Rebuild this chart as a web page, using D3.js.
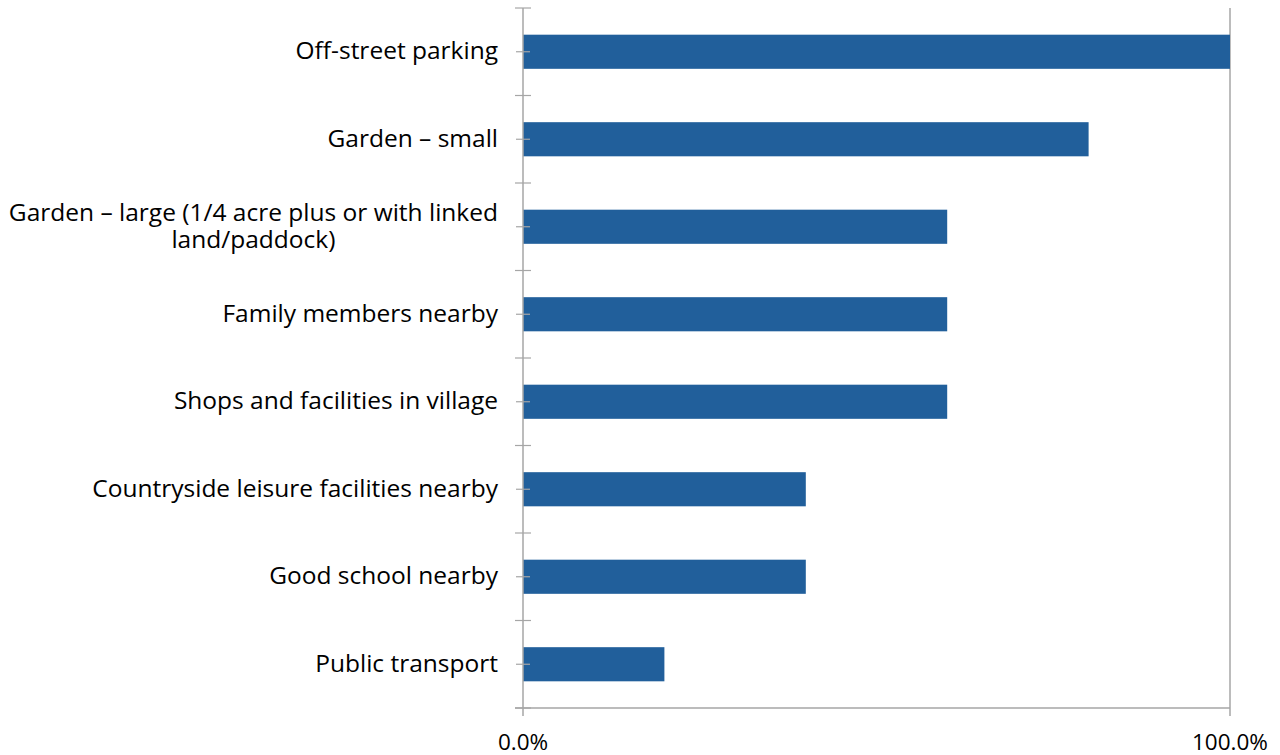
<!DOCTYPE html>
<html>
<head>
<meta charset="utf-8">
<script src="https://cdn.jsdelivr.net/npm/d3@7"></script>
<style>
  html, body { margin: 0; padding: 0; background: #fff; }
  svg { display: block; }
  text { font-family: "Open Sans", "Noto Sans", sans-serif; fill: #000; }
</style>
</head>
<body>
<svg id="chart" width="1280" height="755"></svg>
<script>
// Share of respondents rating each feature as important
const categories = [
  "Off-street parking",
  "Garden – small",
  "Garden – large (1/4 acre plus or with linked land/paddock)",
  "Family members nearby",
  "Shops and facilities in village",
  "Countryside leisure facilities nearby",
  "Good school nearby",
  "Public transport"
];
const values = [1.0, 0.8, 0.6, 0.6, 0.6, 0.4, 0.4, 0.2];
const xTickValues = [0, 1];

// label lines for categories that wrap
const labelLines = {
  "Garden – large (1/4 acre plus or with linked land/paddock)":
    ["Garden – large (1/4 acre plus or with linked", "land/paddock)"]
};

const svg = d3.select("#chart");
const margin = { top: 8, right: 50, bottom: 47, left: 523 };
const W = 1280, H = 755;
const innerW = W - margin.left - margin.right;
const innerH = H - margin.top - margin.bottom;

const g = svg.append("g").attr("transform", `translate(${margin.left},${margin.top})`);

const x = d3.scaleLinear().domain([0, 1]).range([0, innerW]);
const y = d3.scaleBand().domain(categories).range([0, innerH]).paddingInner(0.61).paddingOuter(0.305);
const band = d3.scaleBand().domain(categories).range([0, innerH]);

const axisColor = "#a6a6a6";

// gridline at 100%
g.append("line")
  .attr("x1", x(1)).attr("x2", x(1))
  .attr("y1", 0).attr("y2", innerH)
  .attr("stroke", axisColor).attr("stroke-width", 1.5);

// bars
g.selectAll("rect.bar")
  .data(categories)
  .join("rect")
  .attr("class", "bar")
  .attr("x", x(0))
  .attr("y", d => y(d))
  .attr("width", (d, i) => x(values[i]) - x(0))
  .attr("height", y.bandwidth())
  .attr("fill", "#215f9b");

// category axis line
g.append("line")
  .attr("x1", 0).attr("x2", 0)
  .attr("y1", 0).attr("y2", innerH)
  .attr("stroke", axisColor).attr("stroke-width", 1.5);

// ticks at band boundaries
const boundaries = categories.map(c => band(c)).concat([innerH]);
g.selectAll("line.major")
  .data(boundaries)
  .join("line")
  .attr("class", "major")
  .attr("x1", -8).attr("x2", 8)
  .attr("y1", d => d).attr("y2", d => d)
  .attr("stroke", axisColor).attr("stroke-width", 1.2);

// ticks at band centres
g.selectAll("line.minor")
  .data(categories)
  .join("line")
  .attr("class", "minor")
  .attr("x1", -7).attr("x2", 7)
  .attr("y1", d => band(d) + band.bandwidth() / 2)
  .attr("y2", d => band(d) + band.bandwidth() / 2)
  .attr("stroke", axisColor).attr("stroke-width", 1.2);

// value axis
g.append("line")
  .attr("x1", -8).attr("x2", x(1))
  .attr("y1", innerH).attr("y2", innerH)
  .attr("stroke", axisColor).attr("stroke-width", 1.5);

g.selectAll("line.xtick")
  .data(xTickValues)
  .join("line")
  .attr("class", "xtick")
  .attr("x1", d => x(d)).attr("x2", d => x(d))
  .attr("y1", innerH).attr("y2", innerH + 8)
  .attr("stroke", axisColor).attr("stroke-width", 1.5);

const fmt = d3.format(".1%");
g.selectAll("text.xlabel")
  .data(xTickValues)
  .join("text")
  .attr("class", "xlabel")
  .attr("x", d => x(d))
  .attr("y", innerH + 42)
  .attr("text-anchor", "middle")
  .attr("font-size", 22.5)
  .text(d => fmt(d));

// category labels
const labelRight = -25;
categories.forEach(c => {
  const lines = labelLines[c] || [c];
  const cy = band(c) + band.bandwidth() / 2;
  const lh = 27;
  const t = g.append("text")
    .attr("font-size", 24.5)
    .attr("text-anchor", "end");
  lines.forEach((ln, i) => {
    t.append("tspan")
      .attr("x", labelRight)
      .attr("y", cy + (i - (lines.length - 1) / 2) * lh)
      .attr("dy", "0.3em")
      .text(ln);
  });
  if (lines.length > 1) {
    // centre the lines on one another, block flush right
    const widths = t.selectAll("tspan").nodes().map(n => n.getComputedTextLength());
    const maxW = d3.max(widths);
    t.attr("text-anchor", "middle");
    t.selectAll("tspan").attr("x", labelRight - maxW / 2);
  }
});
</script>
</body>
</html>
